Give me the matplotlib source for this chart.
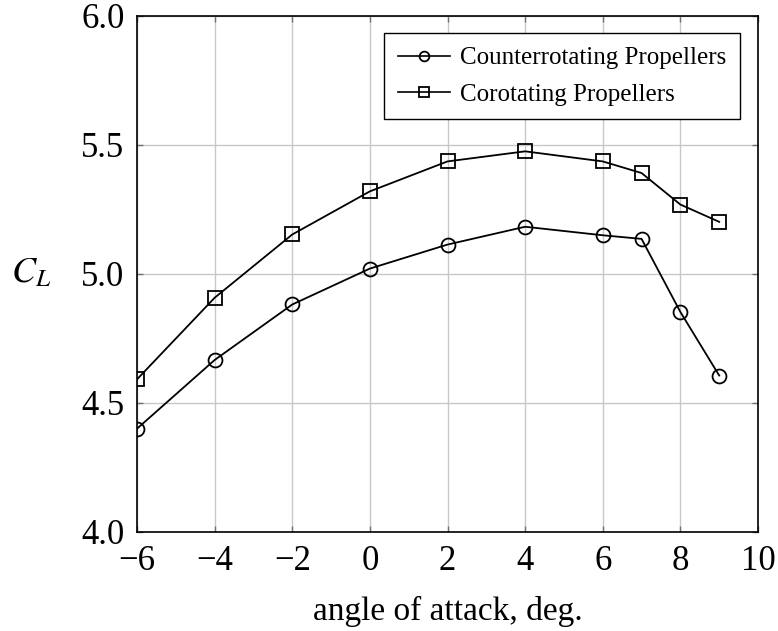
import matplotlib.pyplot as plt
import numpy as np

plt.rcParams['font.family'] = ['Liberation Serif', 'DejaVu Serif']
plt.rcParams['mathtext.fontset'] = 'stix'

# angle of attack, deg.
alpha = [-6, -4, -2, 0, 2, 4, 6, 7, 8, 9]
cl_counter = [4.40, 4.666, 4.881, 5.020, 5.113, 5.182, 5.149, 5.135, 4.852, 4.606]
cl_corot = [4.591, 4.907, 5.152, 5.319, 5.435, 5.474, 5.435, 5.390, 5.268, 5.201]

xticks = list(range(-6, 11, 2))
yticks = [4.0, 4.5, 5.0, 5.5, 6.0]

fig = plt.figure(figsize=(7.78, 6.31), dpi=100)
ax = fig.add_axes([137/778, 1 - 532/631, 621/778, 516.5/631])

ax.plot(alpha, cl_counter, color="black", lw=1.3, marker="o", ms=10,
        mfc="none", mec="black", mew=1.3, label="Counterrotating Propellers")
ax.plot(alpha, cl_corot, color="black", lw=1.3, marker="s", ms=9.5,
        mfc="none", mec="black", mew=1.3, label="Corotating Propellers")

ax.set_xlim(-6, 10)
ax.set_ylim(4.0, 6.0)
ax.set_xticks(xticks)
ax.set_yticks(yticks)
ax.set_xticklabels(["\u2212%d" % -v if v < 0 else str(v) for v in xticks])
ax.set_yticklabels(["%.1f" % v for v in yticks])
ax.grid(True, color="#c8c8c8", lw=1.0)
ax.set_axisbelow(True)
ax.tick_params(direction="in", length=4, width=1, top=True, right=True,
               labelsize=25, color="#707070", pad=9)
for s in ax.spines.values():
    s.set_linewidth(1.2)

ax.set_xlabel("angle of attack, deg.", fontsize=24, labelpad=13)
ax.set_ylabel("$C_L$", fontsize=26, rotation=0, va="center")
ax.yaxis.set_label_coords(-0.17, 0.5)

leg = ax.legend(loc="upper right", bbox_to_anchor=(740/778, 1 - 33/631),
                bbox_transform=fig.transFigure, fontsize=18, frameon=True,
                fancybox=False, edgecolor="black", framealpha=1,
                handlelength=2.1, handletextpad=0.4, borderaxespad=0,
                borderpad=0.55, labelspacing=0.55)
leg.get_frame().set_linewidth(1.0)
for h in leg.legend_handles:
    h.set_markersize(7)
    h.set_linewidth(1.2)

plt.savefig("out.png", dpi=100)
